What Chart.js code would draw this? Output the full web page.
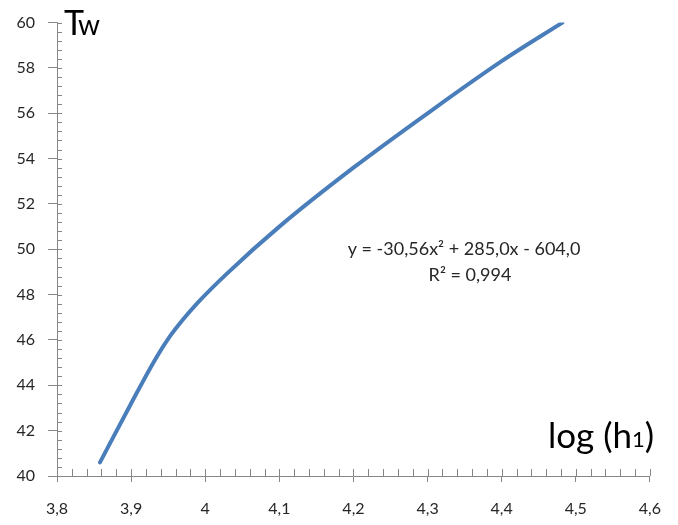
<!DOCTYPE html>
<html>
<head>
<meta charset="utf-8">
<script src="https://cdn.jsdelivr.net/npm/chart.js@4.4.1/dist/chart.umd.min.js"></script>
<style>
  html, body { margin: 0; padding: 0; background: #fff; }
  #wrap { width: 678px; height: 525px; position: relative; }
</style>
</head>
<body>
<div id="wrap"><canvas id="chart"></canvas></div>
<script>
const xTicks = [3.8, 3.9, 4.0, 4.1, 4.2, 4.3, 4.4, 4.5, 4.6];
const yTicks = [40, 42, 44, 46, 48, 50, 52, 54, 56, 58, 60];

// log(h1) against Tw
const logH = [3.858, 3.90, 3.93, 3.95, 3.97, 3.99, 4.03, 4.10, 4.20, 4.30, 4.40, 4.482];
const tw = [40.6, 43.2, 45.0, 46.05, 46.9, 47.65, 48.95, 51.0, 53.6, 56.0, 58.3, 60.0];

const eqLine = "y = -30,56x² + 285,0x - 604,0";
const r2Line = "R² = 0,994";

const AXIS = "#868686";
const TEXT = "#262626";
const FONT = "Lato, 'Open Sans', sans-serif";

const fmt = v => Number(v.toFixed(1)).toString().replace(".", ",");

// inner ticks (major + minor) and the free text of the picture
const extras = {
  id: "extras",
  afterDraw(chart) {
    const c = chart.ctx;
    const xs = chart.scales.x, ys = chart.scales.y;
    const a = chart.chartArea;
    c.save();
    c.strokeStyle = AXIS;
    c.lineWidth = 1;
    c.beginPath();
    for (let i = 0; i <= 40; i++) {
      const px = Math.round(xs.getPixelForValue(3.8 + i * 0.02)) + 0.5;
      c.moveTo(px, a.bottom);
      c.lineTo(px, a.bottom - 7);
    }
    for (let i = 0; i <= 50; i++) {
      const py = Math.round(ys.getPixelForValue(40 + i * 0.4)) + 0.5;
      c.moveTo(a.left, py);
      c.lineTo(a.left + 5, py);
    }
    c.stroke();

    c.fillStyle = "#000";
    c.textBaseline = "alphabetic";
    c.textAlign = "left";
    c.font = "34px " + FONT;
    c.fillText("T", 64, 35);
    c.font = "28px " + FONT;
    c.fillText("w", 78, 35);

    c.font = "35px " + FONT;
    let x = 548;
    c.fillText("log (h", x, 448);
    x += c.measureText("log (h").width;
    c.font = "22px " + FONT;
    c.fillText("1", x, 447);
    x += c.measureText("1").width;
    c.font = "35px " + FONT;
    c.fillText(")", x, 448);

    c.fillStyle = TEXT;
    c.textAlign = "center";
    c.font = "18px " + FONT;
    c.fillText(eqLine, 464, 255);
    c.fillText(r2Line, 470, 281);
    c.restore();
  }
};

new Chart(document.getElementById("chart"), {
  type: "scatter",
  data: {
    datasets: [{
      data: logH.map((v, i) => ({ x: v, y: tw[i] })),
      showLine: true,
      borderColor: "#4A7EBB",
      borderWidth: 4,
      borderCapStyle: "round",
      cubicInterpolationMode: "monotone",
      pointRadius: 0,
      fill: false
    }]
  },
  options: {
    responsive: true,
    maintainAspectRatio: false,
    animation: false,
    layout: { padding: { top: 21, right: 15, left: 0, bottom: 0 } },
    plugins: { legend: { display: false }, tooltip: { enabled: false } },
    scales: {
      x: {
        type: "linear",
        min: 3.8,
        max: 4.6,
        afterBuildTicks: s => { s.ticks = xTicks.map(v => ({ value: v })); },
        afterFit: s => { s.height = 49; },
        grid: { display: true, drawOnChartArea: false, tickLength: 6, color: AXIS },
        border: { color: AXIS, width: 1 },
        ticks: { callback: fmt, color: TEXT, padding: 17, maxRotation: 0, font: { family: FONT, size: 16 } }
      },
      y: {
        min: 40,
        max: 60,
        afterBuildTicks: s => { s.ticks = yTicks.map(v => ({ value: v })); },
        afterFit: s => { s.width = 57; },
        grid: { display: true, drawOnChartArea: false, tickLength: 9, color: AXIS },
        border: { color: AXIS, width: 1 },
        ticks: { callback: v => String(v), color: TEXT, padding: 13, font: { family: FONT, size: 16 } }
      }
    }
  },
  plugins: [extras]
});
</script>
</body>
</html>
